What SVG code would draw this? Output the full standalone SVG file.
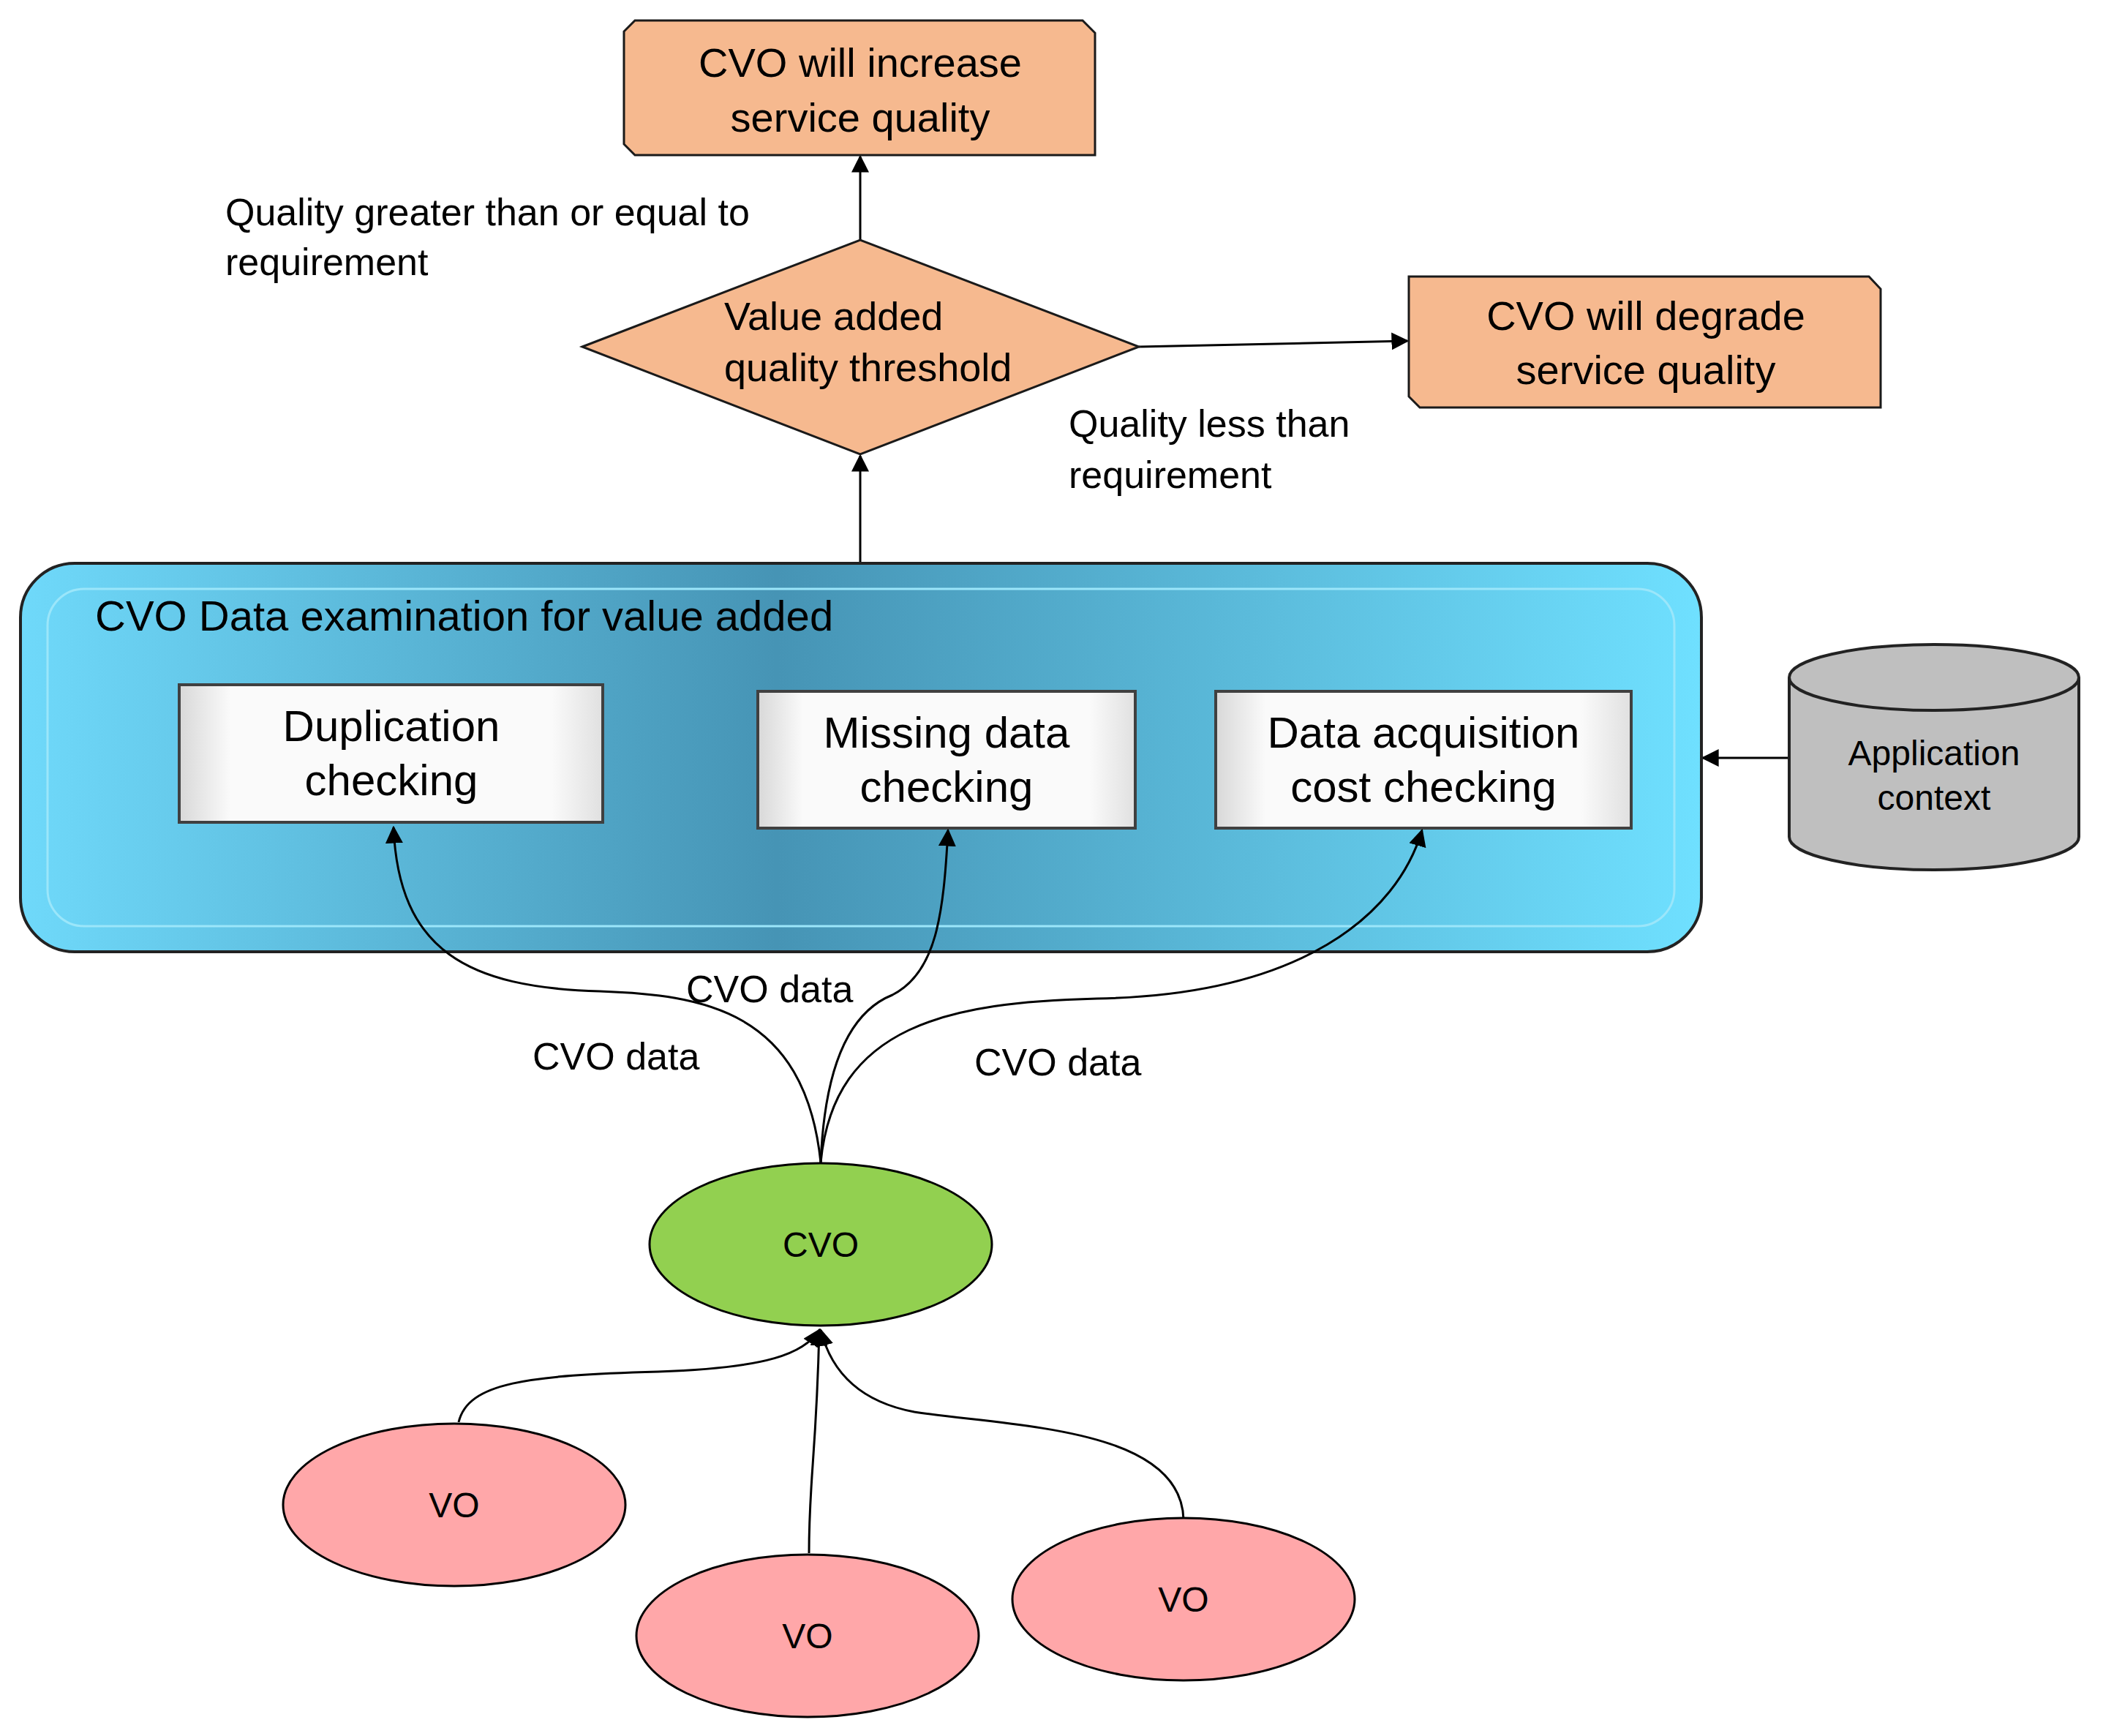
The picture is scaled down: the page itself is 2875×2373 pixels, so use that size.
<svg xmlns="http://www.w3.org/2000/svg" width="2875" height="2373" viewBox="0 0 2875 2373">
<style>
text{font-family:"Liberation Sans",Arial,sans-serif;fill:#000}
.lbl{font-size:52px}
.org{fill:#F6B98F;stroke:#1a1a1a;stroke-width:3}
.wb{fill:url(#wg);stroke:#404040;stroke-width:4}
.bt{font-size:60px;text-anchor:middle}
.ln{fill:none;stroke:#000;stroke-width:3}
.vo{fill:#FFA7A9;stroke:#000;stroke-width:3}
</style>
<defs>
<marker id="ah" viewBox="0 0 10 10" refX="9" refY="5" markerWidth="9" markerHeight="9" markerUnits="userSpaceOnUse" orient="auto"><path d="M0,0L10,5L0,10z" fill="#000"/></marker>
<marker id="ah2" viewBox="0 0 10 10" refX="9" refY="5" markerWidth="24" markerHeight="24" markerUnits="userSpaceOnUse" orient="auto"><path d="M0,0L10,5L0,10z" fill="#000"/></marker>
<linearGradient id="bg" x1="0" x2="1" y1="0" y2="0">
<stop offset="0" stop-color="#6FD9FA"/><stop offset="0.45" stop-color="#4694B5"/><stop offset="1" stop-color="#6FE0FF"/>
</linearGradient>
<linearGradient id="wg" x1="0" x2="1"><stop offset="0" stop-color="#d8d8d8"/><stop offset="0.12" stop-color="#fafafa"/><stop offset="0.88" stop-color="#fafafa"/><stop offset="1" stop-color="#e0e0e0"/></linearGradient>
</defs>
<g id="connectors">
<line class="ln" x1="1176" y1="328" x2="1176" y2="214" marker-end="url(#ah2)"/>
<line class="ln" x1="1557" y1="474" x2="1924" y2="466" marker-end="url(#ah2)"/>
<line class="ln" x1="1176" y1="770" x2="1176" y2="623" marker-end="url(#ah2)"/>
<line class="ln" x1="2446" y1="1036" x2="2328" y2="1036" marker-end="url(#ah2)"/>
</g>
<g id="increase"><path class="org" d="M868,28H1480L1497,45V212H868L853,197V43Z"/>
<text class="bt" x="1176" y="105" style="font-size:56px">CVO will increase</text><text class="bt" x="1176" y="180" style="font-size:56px">service quality</text></g>
<g id="degrade"><path class="org" d="M1926,378H2555L2571,395V557H1941L1926,542Z"/>
<text class="bt" x="2250" y="451" style="font-size:56px">CVO will degrade</text><text class="bt" x="2250" y="525" style="font-size:56px">service quality</text></g>
<g id="threshold"><path class="org" d="M796,474L1176,328L1557,474L1176,621Z"/>
<text x="990" y="451" style="font-size:54px">Value added</text><text x="990" y="521" style="font-size:54px">quality  threshold</text></g>
<text class="lbl" x="308" y="308">Quality greater than or equal to</text>
<text class="lbl" x="308" y="376">requirement</text>
<text class="lbl" x="1461" y="597">Quality less than</text>
<text class="lbl" x="1461" y="667">requirement</text>
<g id="examination">
<rect x="28" y="770" width="2298" height="531" rx="74" fill="url(#bg)" stroke="#222" stroke-width="4"/>
<rect x="65" y="805" width="2224" height="461" rx="50" fill="none" stroke="#9BE6FA" stroke-width="3"/>
<text x="130" y="862" style="font-size:58px">CVO Data examination for value added</text>
</g>
<g id="dup"><rect class="wb" x="245" y="936" width="579" height="188"/><text class="bt" x="535" y="1013">Duplication</text><text class="bt" x="535" y="1087">checking</text></g>
<g id="missing"><rect class="wb" x="1036" y="945" width="516" height="187"/><text class="bt" x="1294" y="1022">Missing data</text><text class="bt" x="1294" y="1096">checking</text></g>
<g id="cost"><rect class="wb" x="1662" y="945" width="568" height="187"/><text class="bt" x="1946" y="1022">Data acquisition</text><text class="bt" x="1946" y="1096">cost checking</text></g>
<g id="appctx">
<path d="M2446,926V1144A198,45 0 0 0 2842,1144V926" fill="#BFBFBF" stroke="#222" stroke-width="4"/>
<ellipse cx="2644" cy="926" rx="198" ry="45" fill="#BFBFBF" stroke="#222" stroke-width="4"/>
<text x="2644" y="1046" style="font-size:48px;text-anchor:middle">Application</text><text x="2644" y="1107" style="font-size:48px;text-anchor:middle">context</text>
</g>
<g id="cvo-links">
<path class="ln" d="M1122,1589C1100,1380 960,1360 820,1355C640,1350 545,1300 538,1131" marker-end="url(#ah2)"/>
<path class="ln" d="M1122,1589C1128,1440 1170,1380 1220,1360C1280,1330 1290,1250 1296,1135" marker-end="url(#ah2)"/>
<path class="ln" d="M1122,1589C1140,1400 1300,1370 1500,1365C1780,1360 1910,1250 1944,1135" marker-end="url(#ah2)"/>
<text class="lbl" x="938" y="1370">CVO data</text>
<text class="lbl" x="728" y="1462">CVO data</text>
<text class="lbl" x="1332" y="1470">CVO data</text>
</g>
<g id="cvo"><ellipse cx="1122" cy="1701" rx="234" ry="111" fill="#92D050" stroke="#000" stroke-width="3"/><text x="1122" y="1718" style="font-size:48px;text-anchor:middle">CVO</text></g>
<g id="vo-links">
<path class="ln" d="M627,1944C640,1890 720,1880 900,1875C1050,1870 1100,1850 1120,1818" marker-end="url(#ah2)"/>
<path class="ln" d="M1106,2123C1106,2020 1116,1990 1120,1818" marker-end="url(#ah2)"/>
<path class="ln" d="M1618,2077C1615,1950 1380,1950 1250,1930C1170,1915 1135,1870 1122,1818" marker-end="url(#ah2)"/>
</g>
<g id="vo1"><ellipse class="vo" cx="621" cy="2057" rx="234" ry="111"/><text x="621" y="2074" style="font-size:48px;text-anchor:middle">VO</text></g>
<g id="vo2"><ellipse class="vo" cx="1104" cy="2236" rx="234" ry="111"/><text x="1104" y="2253" style="font-size:48px;text-anchor:middle">VO</text></g>
<g id="vo3"><ellipse class="vo" cx="1618" cy="2186" rx="234" ry="111"/><text x="1618" y="2203" style="font-size:48px;text-anchor:middle">VO</text></g>
</svg>
